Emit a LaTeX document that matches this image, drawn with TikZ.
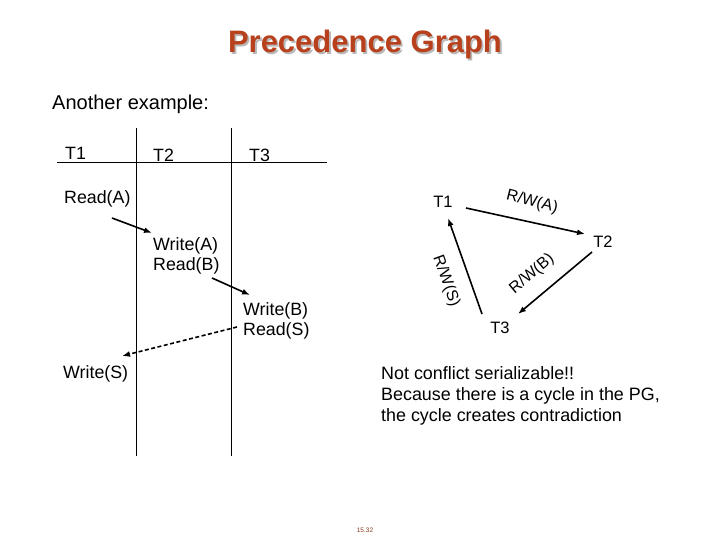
\documentclass[tikz,border=0pt]{standalone}
\usepackage{fontspec}
\setmainfont{Liberation Sans}
\usetikzlibrary{arrows.meta,calc}
\definecolor{titlecol}{RGB}{184,64,28}
\definecolor{numcol}{RGB}{140,60,30}
\tikzset{
  txt/.style={inner sep=0pt,anchor=base west,font=\fontsize{17.8}{21}\selectfont},
  gnode/.style={inner sep=0pt,font=\fontsize{16.5}{20}\selectfont},
  elabel/.style={inner sep=0pt,font=\fontsize{16}{19}\selectfont},
  arr/.style={line width=1.6pt,-{Latex[length=8pt,width=6pt]}},
  dasharr/.style={line width=1.6pt,dash pattern=on 4pt off 2.5pt,-{Latex[length=8pt,width=6pt]}},
  rule/.style={line width=1pt}
}
\begin{document}
\begin{tikzpicture}[x=1pt,y=-1pt]
\useasboundingbox[fill=white] (0,0) rectangle (720,540);
% title
\node[inner sep=0pt,anchor=base,font=\fontsize{31}{34}\bfseries,text=black!28] (titleshadow) at (366.8,54.8) {Precedence Graph};
\node[inner sep=0pt,anchor=base,font=\fontsize{31}{34}\bfseries,text=titlecol] (title) at (365,53) {Precedence Graph};
\node[inner sep=0pt,anchor=base west,font=\fontsize{20}{24}\selectfont] (another) at (52,110) {Another example:};
% schedule rules
\draw[rule] (136,128) -- (136,456);
\draw[rule] (231,128) -- (231,456);
\draw[rule] (57,163) -- (327,163);
\node[txt] (h1) at (65,160) {T1};
\node[txt] (h2) at (153,162) {T2};
\node[txt] (h3) at (249,162) {T3};
% operations
\node[txt] (ra) at (64,204) {Read(A)};
\node[txt] (wa) at (153,250) {Write(A)};
\node[txt] (rb) at (153,270) {Read(B)};
\node[txt] (wb) at (243,315) {Write(B)};
\node[txt] (rs) at (243,335) {Read(S)};
\node[txt] (ws) at (63,378) {Write(S)};
\draw[arr] ($(ra.base west)+(48,14)$) -- ($(wa.base west)+(-1,-17)$);
\draw[arr] ($(rb.base west)+(59,8)$) -- ($(wb.base west)+(7,-20)$);
\draw[dasharr] ($(rs.base west)+(-6,-8)$) -- ($(ws.base west)+(59,-22)$);
% precedence graph
\node[gnode] (g1) at (443,202) {T1};
\node[gnode] (g2) at (603,242) {T2};
\node[gnode] (g3) at (500,328) {T3};
\draw[arr] ($(g1)+(23,6)$) -- ($(g2)+(-18,-8)$);
\draw[arr] ($(g2)+(-11,10)$) -- ($(g3)+(18,-14)$);
\draw[arr] ($(g3)+(-18,-14)$) -- ($(g1)+(5,16)$);
\node[elabel,rotate=-14] (la) at (532,202) {R/W(A)};
\node[elabel,rotate=40] (lb) at (532,274) {R/W(B)};
\node[elabel,rotate=-70] (ls) at (446,281) {R/W(S)};
% comment
\node[inner sep=0pt,anchor=north west,align=left,font=\fontsize{17.9}{21.3}\selectfont] (note) at (381,366) {Not conflict serializable!!\\Because there is a cycle in the PG,\\the cycle creates contradiction};
\node[inner sep=0pt,font=\fontsize{6.5}{8}\selectfont,text=numcol] (pagenum) at (365,530) {15.32};
\end{tikzpicture}
\end{document}
